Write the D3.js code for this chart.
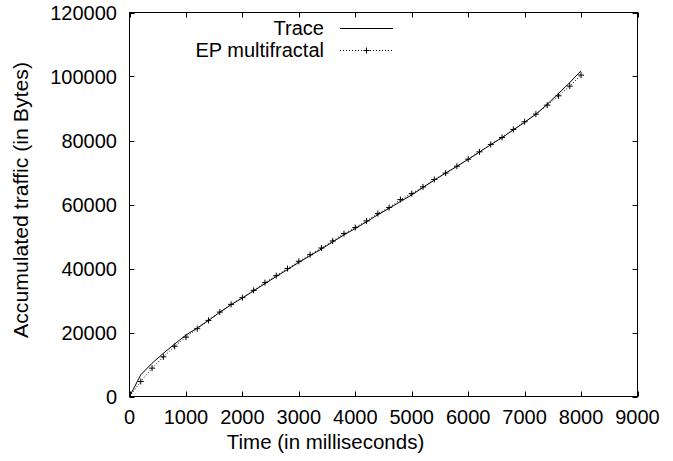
<!DOCTYPE html>
<html><head><meta charset="utf-8">
<script src="https://cdn.jsdelivr.net/npm/d3@7"></script>
<style>body{margin:0;background:#fff}text{font-family:"Liberation Sans",Arial,sans-serif;}</style>
</head><body>
<svg id="c" width="673" height="461"></svg>
<script>
const traceT = [0,200,400,600,800,1000,1200,1400,1600,1800,2000,2200,2400,2600,2800,3000,3200,3400,3600,3800,4000,4200,4400,4600,4800,5000,5200,5400,5600,5800,6000,6200,6400,6600,6800,7000,7200,7400,7600,7800,8000];
const traceV = [0,6800,10400,13500,16400,19200,21400,23800,26300,28700,30800,33000,35300,37500,39700,41900,44000,46100,48300,50500,52500,54600,56800,58800,60900,63000,65300,67600,69800,71900,74100,76400,78700,80900,83300,85700,88200,91300,94700,98100,101800];
const epT = [0,200,400,600,800,1000,1200,1400,1600,1800,2000,2200,2400,2600,2800,3000,3200,3400,3600,3800,4000,4200,4400,4600,4800,5000,5200,5400,5600,5800,6000,6200,6400,6600,6800,7000,7200,7400,7600,7800,8000];
const epV = [0,4700,8860,12400,15700,18560,21180,23780,26380,28790,30880,33170,35580,37760,40000,42240,44330,46410,48600,50900,52780,54860,57160,59050,61540,63420,65500,67800,69800,71970,74160,76450,78760,80950,83450,85840,88240,91060,93970,97000,100440];
const xTicks = [0,1000,2000,3000,4000,5000,6000,7000,8000,9000];
const yTicks = [0,20000,40000,60000,80000,100000,120000];
const seriesNames = ["Trace","EP multifractal"];

const svg = d3.select("#c");
const L=129.5, R=637.5, T=12.5, B=396.5;
const x = d3.scaleLinear().domain([0,9000]).range([L,R]);
const y = d3.scaleLinear().domain([0,120000]).range([B,T]);
const fs = 20;

// ticks (inward, mirrored)
const tl = 5;
const g = svg.append("g").attr("stroke","#000").attr("stroke-width",1);
xTicks.forEach(t=>{
  g.append("line").attr("x1",Math.round(x(t))+0.5).attr("x2",Math.round(x(t))+0.5).attr("y1",B).attr("y2",B-tl);
  g.append("line").attr("x1",Math.round(x(t))+0.5).attr("x2",Math.round(x(t))+0.5).attr("y1",T).attr("y2",T+tl);
});
yTicks.forEach(t=>{
  g.append("line").attr("y1",Math.round(y(t))+0.5).attr("y2",Math.round(y(t))+0.5).attr("x1",L).attr("x2",L+tl);
  g.append("line").attr("y1",Math.round(y(t))+0.5).attr("y2",Math.round(y(t))+0.5).attr("x1",R).attr("x2",R-tl);
});
svg.append("rect").attr("x",L).attr("y",T).attr("width",R-L).attr("height",B-T)
  .attr("fill","none").attr("stroke","#000").attr("stroke-width",1);

svg.append("g").selectAll("text").data(xTicks).join("text")
  .attr("x",d=>x(d)).attr("y",424).attr("text-anchor","middle").attr("font-size",fs).text(d=>d);
svg.append("g").selectAll("text").data(yTicks).join("text")
  .attr("x",117).attr("y",d=>y(d)+7).attr("text-anchor","end").attr("font-size",fs).text(d=>d);

svg.append("text").attr("x",325.5).attr("y",449).attr("text-anchor","middle").attr("font-size",20.5).text("Time (in milliseconds)");
svg.append("text").attr("transform","translate(28,200) rotate(-90)").attr("text-anchor","middle").attr("font-size",fs)
  .attr("textLength",276).attr("lengthAdjust","spacingAndGlyphs").text("Accumulated traffic (in Bytes)");

const line = d3.line().x(d=>x(d[0])).y(d=>y(d[1]));
const trace = traceT.map((t,i)=>[t,traceV[i]]);
const ep = epT.map((t,i)=>[t,epV[i]]);

svg.append("path").attr("d",line(ep)).attr("fill","none").attr("stroke","#000").attr("stroke-width",1).attr("stroke-dasharray","1,2");
const plus = (sel, cx, cy, s)=>{
  sel.append("line").attr("x1",cx-s).attr("x2",cx+s).attr("y1",cy).attr("y2",cy).attr("stroke","#000");
  sel.append("line").attr("x1",cx).attr("x2",cx).attr("y1",cy-s).attr("y2",cy+s).attr("stroke","#000");
};
const mg = svg.append("g");
ep.slice(1).forEach(d=>plus(mg, x(d[0]), y(d[1]), 3));
svg.append("path").attr("d",line(trace)).attr("fill","none").attr("stroke","#000").attr("stroke-width",1);

// legend
svg.append("text").attr("x",324).attr("y",35).attr("text-anchor","end").attr("font-size",fs).text(seriesNames[0]);
svg.append("line").attr("x1",340).attr("x2",393).attr("y1",28.5).attr("y2",28.5).attr("stroke","#000");
svg.append("text").attr("x",324).attr("y",57).attr("text-anchor","end").attr("font-size",fs).text(seriesNames[1]);
svg.append("line").attr("x1",340).attr("x2",393).attr("y1",50.5).attr("y2",50.5).attr("stroke","#000").attr("stroke-dasharray","1,2");
plus(svg, 366.5, 50.5, 3);
</script>
</body></html>
